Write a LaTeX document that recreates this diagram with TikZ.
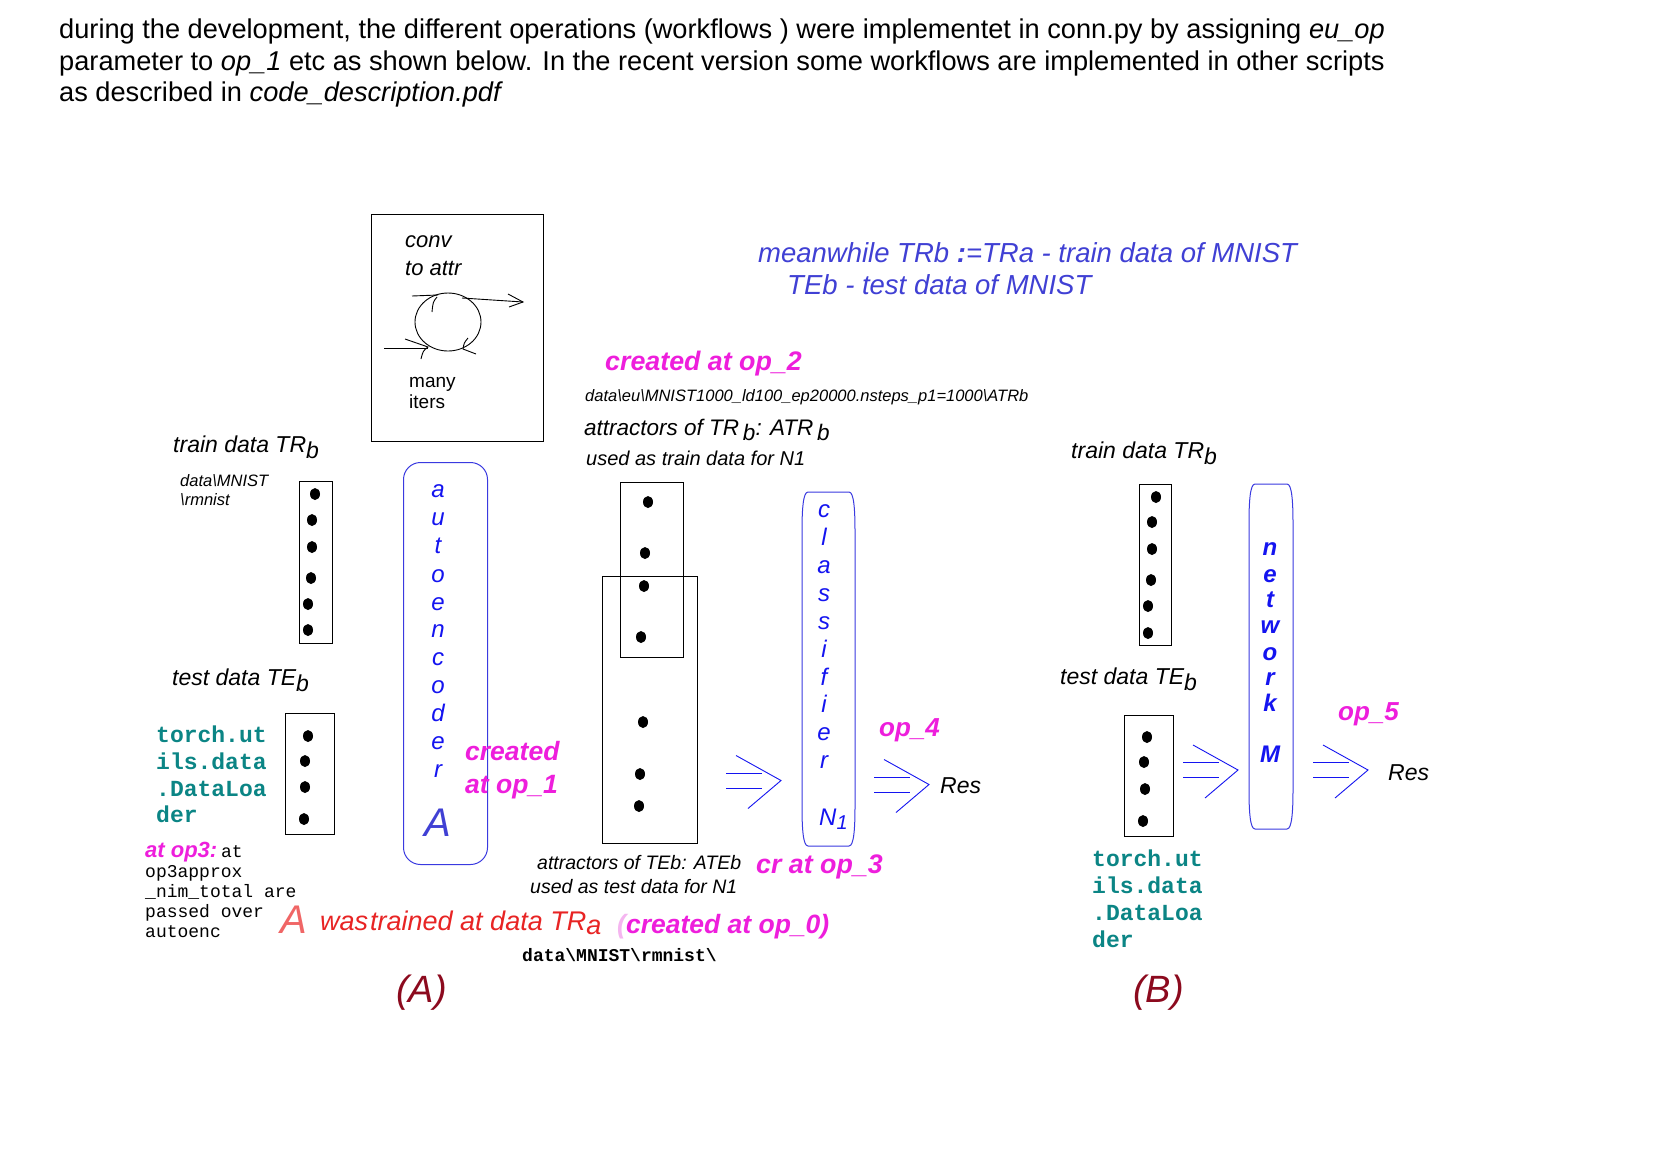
\documentclass[tikz,border=0pt]{standalone}
\usepackage{fontspec}
\setmainfont{Liberation Sans}
\setmonofont{Liberation Mono}
\usetikzlibrary{shapes.geometric}
\definecolor{mag}{HTML}{EE1EDC}
\definecolor{pblue}{HTML}{1414F0}
\definecolor{sblue}{HTML}{4040D4}
\definecolor{bline}{HTML}{3A3AE0}
\definecolor{teal2}{HTML}{0B8585}
\definecolor{tred}{HTML}{E82424}
\definecolor{salmon2}{HTML}{F06666}
\definecolor{dred}{HTML}{8C0A1E}
\definecolor{pinkp}{HTML}{F5B5F0}
\newcommand\myfs[1]{\fontsize{#1}{#1}\selectfont}
\begin{document}
\begin{tikzpicture}[x=1pt,y=-1pt,
  txt/.style={inner sep=0pt,anchor=base west},
  ctr/.style={inner sep=0pt,anchor=base},
  databox/.style={draw=black,line width=1.2pt,anchor=north west,inner sep=0pt},
  netline/.style={draw=bline,line width=1pt},
  arr/.style={draw=pblue,line width=0.9pt},
  thin/.style={draw=black,line width=0.9pt},
  magt/.style={txt,text=mag,font=\myfs{26.5}\bfseries\itshape},
  torch/.style={txt,text=teal2,font=\myfs{23}\ttfamily\bfseries},
  mono/.style={txt,font=\myfs{18}\ttfamily},
  lbl/.style={txt,font=\myfs{23}\itshape},
  letter/.style={ctr,text=pblue,font=\myfs{24}\itshape},
  bletter/.style={ctr,text=pblue,font=\myfs{24}\bfseries\itshape},
  dblarr/.pic={
    \draw[arr] (0,-7.5) -- (36,-7.5);
    \draw[arr] (0,7.5) -- (36,7.5);
    \draw[arr] (10,-25) -- (55,0) -- (22,28);
  }
]
\useasboundingbox (0,0) rectangle (1676,1168);
\fill[white] (0,0) rectangle (1676,1168);

% header
\node[txt,font=\myfs{27.2}] (h1) at (59,38) {during the development, the different operations (workflows ) were implementet in conn.py by assigning \textit{eu\_op}};
\node[txt,font=\myfs{27.2}] (h2) at (59,70) {parameter to \textit{op\_1} etc as shown below. In the recent version some workflows are implemented in other scripts};
\node[txt,font=\myfs{27.2}] (h3) at (59,101) {as described in \textit{code\_description.pdf}};

% conv box
\node[databox,minimum width=172pt,minimum height=227pt] (conv) at (371,214) {};
\node[txt,font=\myfs{22}\itshape] (conv1) at (405,247) {conv};
\node[txt,font=\myfs{22}\itshape] (conv2) at (405,275) {to attr};
\node[txt,font=\myfs{19}] (many) at (409,387) {many};
\node[txt,font=\myfs{19}] (iters) at (409,408) {iters};
\node[draw,ellipse,line width=0.9pt,minimum width=66pt,minimum height=58pt,inner sep=0pt] (loop) at (448,322) {};
\draw[thin] (412,296) -- (438,295);
\draw[thin] (462,298) -- (523,302);
\draw[thin] (508,294) -- (523,302) -- (509,307);
\draw[thin] (437,297) .. controls (433,302) .. (432,312);
\draw[thin] (384,348) -- (428,348);
\draw[thin] (405,339) -- (428,347) .. controls (423,351) .. (421,359);
\draw[thin] (468,338) .. controls (464,343) .. (463,349) -- (476,354);

% left part (A)
\node[lbl] (trbA) at (173,452) {train data TR\raisebox{-6pt}{b}};
\node[txt,font=\myfs{16.5}\itshape] (pathA1) at (180,486) {data\textbackslash MNIST};
\node[txt,font=\myfs{16.5}\itshape] (pathA2) at (180,505) {\textbackslash rmnist};
\node[databox,minimum width=33pt,minimum height=162pt] (boxTRA) at (299,481) {};
\foreach \x/\y in {315/494,312/520,312/547,311/578,308/604,308/630}
  \fill (\x,\y) ellipse [x radius=5, y radius=6];
\node[lbl] (tebA) at (172,685) {test data TE\raisebox{-6pt}{b}};
\node[databox,minimum width=49pt,minimum height=121pt] (boxTEA) at (285,713) {};
\foreach \x/\y in {308/736,305/761,305/787,304/819}
  \fill (\x,\y) ellipse [x radius=5, y radius=6];
\node[torch] (tA1) at (156,742) {torch.ut};
\node[torch] (tA2) at (156,769) {ils.data};
\node[torch] (tA3) at (156,796) {.DataLoa};
\node[torch] (tA4) at (156,822) {der};

\node[txt] (op3) at (145,857) {{\myfs{22}\bfseries\itshape\color{mag}at op3:} {\ttfamily\myfs{18}at}};
\node[mono] (op3b) at (145,877) {op3approx};
\node[mono] (op3c) at (145,897) {\_nim\_total are};
\node[mono] (op3d) at (145,917) {passed over};
\node[mono] (op3e) at (145,937) {autoenc};

% autoencoder
\node[draw=bline,line width=1pt,rounded corners=17pt,anchor=north west,inner sep=0pt,minimum width=84pt,minimum height=402pt] (ae) at (403,462) {};
\foreach \c/\y [count=\i] in {a/497,u/525,t/553,o/582,e/610,n/637,c/665,o/693,d/721,e/749,r/777}
  \node[letter] (ae\i) at (438,\y) {\c};
\node[ctr,text=sblue,font=\myfs{40}\itshape] (aeA) at (438,836) {A};
\node[magt] (cr1a) at (465,760) {created};
\node[magt] (cr1b) at (465,793) {at op\_1};

\node[txt,text=salmon2,font=\myfs{40}\itshape] (Atr) at (280,933) {A};
\node[txt,text=tred,font=\myfs{27}\itshape] (wastr) at (320,930) {was\hspace{2pt}trained at data TR\raisebox{-4pt}{a}};
\node[magt] (cr0) at (617,933) {{\color{pinkp}(}created at op\_0)};
\node[txt,font=\myfs{18}\ttfamily\bfseries] (pathB) at (522,961) {data\textbackslash MNIST\textbackslash rmnist\textbackslash};

% middle
\node[magt,font=\myfs{26.8}\bfseries\itshape] (cr2) at (605,370) {created at op\_2};
\node[txt,font=\myfs{16.5}\itshape] (pathatr) at (585,401) {data\textbackslash eu\textbackslash MNIST1000\_ld100\_ep20000.nsteps\_p1=1000\textbackslash ATRb};
\node[txt,font=\myfs{22.5}\itshape] (attr1) at (584,435) {attractors of TR\raisebox{-5pt}{\,b}: ATR\raisebox{-5pt}{\,b}};
\node[txt,font=\myfs{20}\itshape] (attr2) at (586,465) {used as train data for N1};
\node[databox,minimum width=63pt,minimum height=175pt] (boxATR) at (620,482) {};
\node[databox,minimum width=95pt,minimum height=267pt] (boxATE) at (602,576) {};
\foreach \x/\y in {648/502,645/553,644/586,641/637,643/722,640/774,639/806}
  \fill (\x,\y) ellipse [x radius=5, y radius=6];
\node[txt,font=\myfs{19.5}\itshape] (atte1) at (537,869) {attractors of TEb: ATEb};
\node[txt,font=\myfs{19.5}\itshape] (atte2) at (530,893) {used as test data for N1};
\node[magt,font=\myfs{26.8}\bfseries\itshape] (cr3) at (756,873) {cr at op\_3};

\pic at (726,780.5) {dblarr};
% classifier
\draw[netline] (808,492) -- (849,492) .. controls (854,492) and (855,510) .. (855,532) -- (855,806) .. controls (855,828) and (854,846) .. (849,846) -- (808,846) .. controls (803,846) and (802,828) .. (802,806) -- (802,532) .. controls (802,510) and (803,492) .. (808,492) -- cycle;
\coordinate (cls) at (828,669);
\foreach \c/\y [count=\i] in {c/517,l/545,a/573,s/601,s/629,i/657,f/685,i/712,e/740,r/768}
  \node[letter] (cl\i) at (824,\y) {\c};
\node[txt,text=pblue,font=\myfs{24}\itshape] (N1) at (819,825) {N\raisebox{-4pt}{\myfs{20}1}};
\node[magt,font=\myfs{26}\bfseries\itshape] (op4) at (879,736) {op\_4};
\pic at (874,784.5) {dblarr};
\node[lbl] (resA) at (940,793) {Res};

% meanwhile
\node[txt,text=sblue,font=\myfs{27.5}\itshape] (mw1) at (758,262) {meanwhile TRb {\bfseries :}=TRa - train data of MNIST};
\node[txt,text=sblue,font=\myfs{27.5}\itshape] (mw2) at (787,294) {TEb - test data of MNIST};

% right part (B)
\node[lbl] (trbB) at (1071,458) {train data TR\raisebox{-6pt}{b}};
\node[databox,minimum width=32pt,minimum height=161pt] (boxTRB) at (1139,484) {};
\foreach \x/\y in {1156/497,1152/522,1152/549,1151/580,1148/606,1148/633}
  \fill (\x,\y) ellipse [x radius=5, y radius=6];
\node[lbl] (tebB) at (1060,684) {test data TE\raisebox{-6pt}{b}};
\node[databox,minimum width=49pt,minimum height=121pt] (boxTEB) at (1124,715) {};
\foreach \x/\y in {1147/737,1144/762,1145/789,1143/821}
  \fill (\x,\y) ellipse [x radius=5, y radius=6];
\node[torch] (tB1) at (1092,866) {torch.ut};
\node[torch] (tB2) at (1092,893) {ils.data};
\node[torch] (tB3) at (1092,920) {.DataLoa};
\node[torch] (tB4) at (1092,947) {der};
\pic at (1183,770) {dblarr};
\draw[netline] (1255,484) -- (1287,484) .. controls (1292,484) and (1293,502) .. (1293,524) -- (1293,789) .. controls (1293,811) and (1292,829) .. (1287,829) -- (1255,829) .. controls (1250,829) and (1249,811) .. (1249,789) -- (1249,524) .. controls (1249,502) and (1250,484) .. (1255,484) -- cycle;
\coordinate (net) at (1271,656);
\foreach \c/\y [count=\i] in {n/555,e/582,t/607,w/633,o/660,r/685,k/711,M/762}
  \node[bletter] (nw\i) at (1270,\y) {\c};
\node[magt,font=\myfs{26}\bfseries\itshape] (op5) at (1338,720) {op\_5};
\pic at (1313,770) {dblarr};
\node[lbl] (resB) at (1388,780) {Res};

% labels
\node[txt,font=\myfs{38}\itshape,text=dred] (labA) at (396,1002) {(A)};
\node[txt,font=\myfs{38}\itshape,text=dred] (labB) at (1133,1002) {(B)};
\end{tikzpicture}
\end{document}
